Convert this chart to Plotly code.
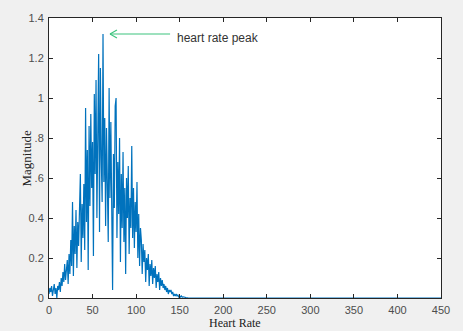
import plotly.graph_objects as go

heart_rate = list(range(0, 161)) + [450]
magnitude = [
    0.02, 0.05, 0.03, 0.06, 0.01, 0.04, 0.07, 0.02, 0.05, 0.00,
    0.06, 0.04, 0.08, 0.03, 0.10, 0.06, 0.13, 0.08, 0.17, 0.09,
    0.15, 0.19, 0.07, 0.22, 0.12, 0.29, 0.16, 0.48, 0.11, 0.36,
    0.22, 0.44, 0.15, 0.38, 0.26, 0.52, 0.62, 0.18, 0.47, 0.30,
    0.57, 0.24, 0.95, 0.38, 0.74, 0.14, 0.86, 0.46, 0.92, 0.55,
    0.78, 0.21, 1.02, 0.62, 1.09, 0.40, 0.98, 1.22, 0.33, 1.15,
    0.70, 0.48, 1.32, 0.58, 0.90, 0.36, 0.85, 0.62, 0.28, 1.05,
    0.50, 0.88, 0.20, 0.04, 0.72, 0.45, 0.96, 1.00, 0.30, 0.68,
    0.42, 0.80, 0.18, 0.62, 0.35, 0.73, 0.28, 0.55, 0.12, 0.60,
    0.40, 0.66, 0.22, 0.50, 0.35, 0.76, 0.30, 0.55, 0.25, 0.48,
    0.33, 0.58, 0.20, 0.42, 0.16, 0.35, 0.29, 0.12, 0.27, 0.18,
    0.24, 0.08, 0.20, 0.14, 0.22, 0.06, 0.17, 0.11, 0.19, 0.07,
    0.15, 0.10, 0.16, 0.05, 0.12, 0.08, 0.13, 0.04, 0.10, 0.06,
    0.09, 0.05, 0.07, 0.04, 0.06, 0.03, 0.05, 0.02, 0.04, 0.03,
    0.04, 0.02, 0.03, 0.01, 0.02, 0.01, 0.02, 0.01, 0.015, 0.005,
    0.01, 0.005, 0.01, 0.004, 0.006, 0.003, 0.004, 0.002, 0.003, 0.001,
    0.0, 0.0,
]
x_ticks = [0, 50, 100, 150, 200, 250, 300, 350, 400, 450]
y_ticks = [0, 0.2, 0.4, 0.6, 0.8, 1.0, 1.2, 1.4]
y_tick_text = ["0", "0.2", "0.4", "0.6", "0.8", "1", "1.2", "1.4"]

peak_x, peak_y = 70, 1.32
arrow_tail_x = 139

fig = go.Figure()
fig.add_trace(go.Scatter(x=heart_rate, y=magnitude, mode="lines",
                         line=dict(color="#0072BD", width=1.2), showlegend=False))

axis_common = dict(showline=True, linecolor="#262626", linewidth=1, mirror="ticks",
                   ticks="inside", ticklen=4, tickcolor="#262626", showgrid=False,
                   zeroline=False, tickfont=dict(family="Liberation Sans, Arial", size=11, color="#4d4d4d"))
fig.update_xaxes(range=[0, 450], tickvals=x_ticks, ticklabelstandoff=2, **axis_common)
fig.update_yaxes(range=[0, 1.4], tickvals=y_ticks, ticktext=y_tick_text, ticklabelstandoff=2, **axis_common)

green = "#3dc47e"
fig.add_shape(type="line", x0=peak_x, y0=peak_y, x1=arrow_tail_x, y1=peak_y,
              line=dict(color=green, width=1.2))
fig.add_shape(type="line", x0=peak_x, y0=peak_y, x1=peak_x + 8, y1=peak_y + 0.02,
              line=dict(color=green, width=1.2))
fig.add_shape(type="line", x0=peak_x, y0=peak_y, x1=peak_x + 8, y1=peak_y - 0.02,
              line=dict(color=green, width=1.2))
fig.add_annotation(x=145, y=1.30, xref="x", yref="y", text="heart rate peak", showarrow=False,
                   xanchor="left", yanchor="middle",
                   font=dict(family="Liberation Sans, Arial", size=12, color="#333333"))

fig.add_annotation(x=0.5, y=0, xref="paper", yref="paper", yshift=-33, xshift=-10,
                   text="Heart Rate", showarrow=False, yanchor="bottom", borderpad=0,
                   font=dict(family="Liberation Serif, Times New Roman", size=12, color="#222222"))
fig.add_annotation(x=0, y=0.5, xref="paper", yref="paper", xshift=-33,
                   text="Magnitude", textangle=-90, showarrow=False, bgcolor="#f0f0f0",
                   font=dict(family="Liberation Serif, Times New Roman", size=13, color="#222222"))

fig.update_layout(width=463, height=331, margin=dict(l=49, r=22, t=13, b=33),
                  paper_bgcolor="#f0f0f0", plot_bgcolor="white")
fig.write_html("out.html")
